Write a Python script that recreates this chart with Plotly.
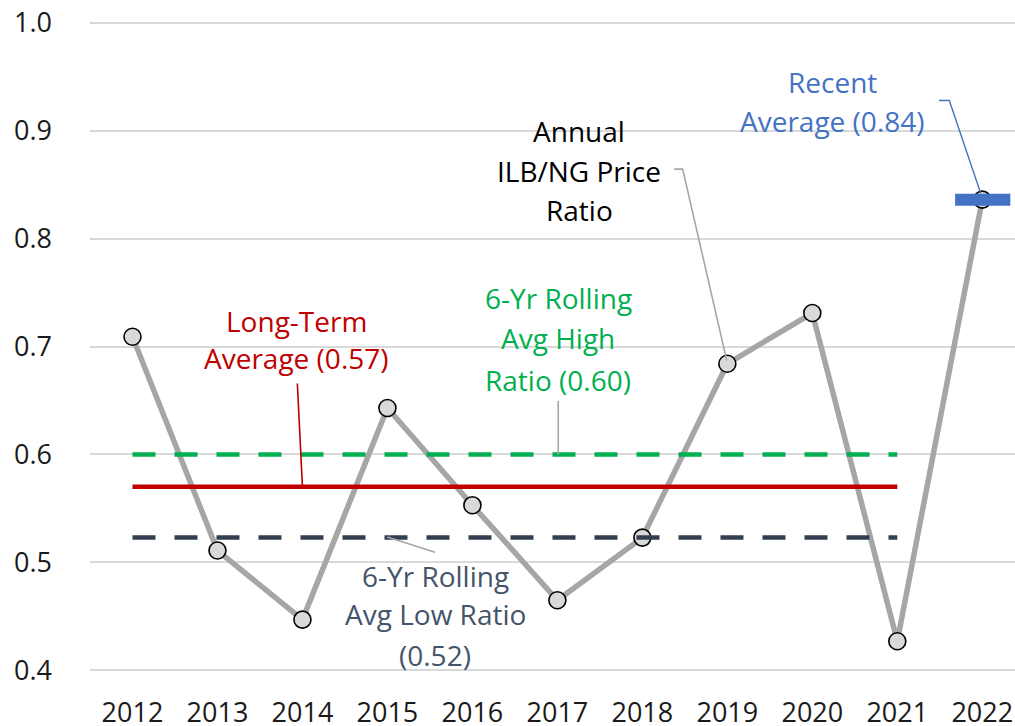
import plotly.graph_objects as go

# ---- data ----
years = [2012, 2013, 2014, 2015, 2016, 2017, 2018, 2019, 2020, 2021, 2022]
price_ratio = [0.709, 0.511, 0.447, 0.643, 0.553, 0.465, 0.523, 0.684, 0.731, 0.427, 0.836]
long_term_avg = 0.57
rolling_high = 0.60
rolling_low = 0.523
recent_avg = 0.836
ref_years = years[:-1]          # reference lines span 2012-2021
recent_year = years[-1]
y_ticks = [0.4, 0.5, 0.6, 0.7, 0.8, 0.9, 1.0]
y_tick_labels = ["0.4", "0.5", "0.6", "0.7", "0.8", "0.9", "1.0"]

FONT = "Open Sans"
GRAY = "#a6a6a6"
GREEN = "#00b050"
RED = "#c00000"
NAVY = "#333f50"
NAVY_TXT = "#44546a"
BLUE = "#4472c4"

fig = go.Figure()

fig.add_trace(go.Scatter(
    x=years, y=price_ratio, mode="lines+markers",
    line=dict(color=GRAY, width=5.5),
    marker=dict(size=17, color="#d9d9d9", line=dict(color="#000000", width=1.6)),
    hoverinfo="skip"))

fig.add_trace(go.Scatter(
    x=ref_years, y=[rolling_high] * len(ref_years), mode="lines",
    line=dict(color=GREEN, width=4.5, dash="23px,19px"), hoverinfo="skip"))
fig.add_trace(go.Scatter(
    x=ref_years, y=[long_term_avg] * len(ref_years), mode="lines",
    line=dict(color=RED, width=4.5), hoverinfo="skip"))
fig.add_trace(go.Scatter(
    x=ref_years, y=[rolling_low] * len(ref_years), mode="lines",
    line=dict(color=NAVY, width=4.5, dash="23px,19px"), hoverinfo="skip"))
fig.add_trace(go.Scatter(
    x=[recent_year - 0.32, recent_year + 0.33], y=[recent_avg, recent_avg], mode="lines",
    line=dict(color=BLUE, width=12), hoverinfo="skip"))

# ---- text labels (one annotation per line) ----
labels = [
    (["Long-Term", "Average (0.57)"], 2013.93, [0.7235, 0.6895], RED),
    (["6-Yr Rolling", "Avg High", "Ratio (0.60)"], 2017.01, [0.745, 0.708, 0.669], GREEN),
    (["Annual", "ILB/NG Price", "Ratio"], 2017.26, [0.900, 0.863, 0.826], "#000000"),
    (["Recent", "Average (0.84)"], 2020.24, [0.945, 0.909], BLUE),
    (["6-Yr Rolling", "Avg Low Ratio", "(0.52)"], 2015.56, [0.487, 0.452, 0.414], NAVY_TXT),
]
annotations = []
for lines, x, ys, col in labels:
    for t, yy in zip(lines, ys):
        annotations.append(dict(x=x, y=yy, xref="x", yref="y", text=t, showarrow=False,
                                xanchor="center", yanchor="middle",
                                font=dict(family=FONT, size=28, color=col)))

# ---- leader lines ----
shapes = [
    dict(type="line", xref="x", yref="y", x0=2013.94, y0=0.6658, x1=2014.0, y1=long_term_avg,
         line=dict(color=RED, width=1.6)),
    dict(type="line", xref="x", yref="y", x0=2017.01, y0=0.6496, x1=2017.01, y1=rolling_high,
         line=dict(color=GRAY, width=1.6)),
    dict(type="path", xref="x", yref="y",
         path="M 2018.376 0.8643 L 2018.474 0.8643 L 2018.992 0.6874",
         line=dict(color=GRAY, width=1.6)),
    dict(type="path", xref="x", yref="y",
         path="M 2021.49 0.9279 L 2021.612 0.9279 L 2021.981 0.842",
         line=dict(color=BLUE, width=1.4)),
    dict(type="line", xref="x", yref="y", x0=2014.998, y0=0.5235, x1=2015.56, y1=0.5095,
         line=dict(color=GRAY, width=1.6)),
]

fig.update_layout(
    width=1015, height=726,
    margin=dict(l=90, r=0, t=21, b=54, pad=0),
    paper_bgcolor="white", plot_bgcolor="white",
    showlegend=False,
    font=dict(family=FONT, size=28, color="#1a1a1a"),
    annotations=annotations, shapes=shapes,
)
fig.update_xaxes(
    range=[2011.5, 2022.385], tickmode="array", tickvals=years,
    ticktext=[str(y) for y in years], showgrid=False, zeroline=False, showline=False,
    ticks="", ticklabelstandoff=22, automargin=False, ticklabeloverflow="allow",
    tickfont=dict(family=FONT, size=27, color="#1a1a1a"))
fig.update_yaxes(
    range=[0.3985, 1.0015], tickmode="array", tickvals=y_ticks, ticktext=y_tick_labels,
    showgrid=True, gridcolor="#d9d9d9", gridwidth=1.5, zeroline=False, showline=False,
    ticks="", ticklabelstandoff=37, automargin=False, ticklabeloverflow="allow",
    tickfont=dict(family=FONT, size=27, color="#1a1a1a"))

# remove the default page margin so the figure fills the window without scrollbars
fig.write_html(
    "out.html",
    config={"displayModeBar": False},
    post_script=("document.body.style.margin='0';"
                 "document.body.style.overflow='hidden';"
                 "document.documentElement.style.overflow='hidden';"))
